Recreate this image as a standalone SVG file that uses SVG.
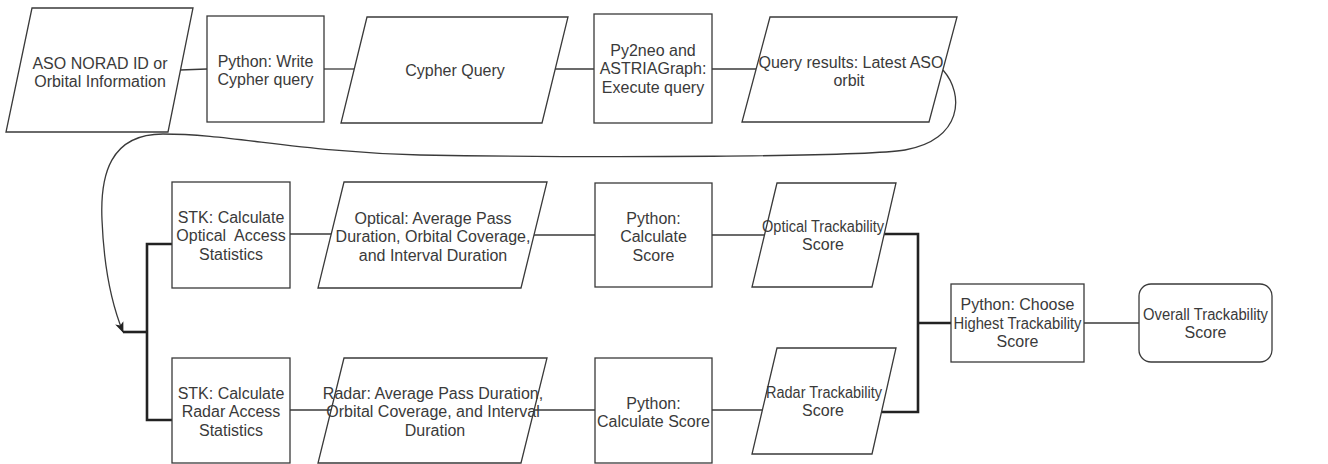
<svg xmlns="http://www.w3.org/2000/svg" width="1328" height="464" viewBox="0 0 1328 464">
<style>
.s{fill:#fff;stroke:#3a3a3a;stroke-width:1.3}
.t{font-family:"Liberation Sans",Arial,sans-serif;font-size:16px;fill:#3a3a3a;text-anchor:middle}
.c{fill:none;stroke:#3a3a3a;stroke-width:1.3}
.k{fill:none;stroke:#222;stroke-width:2.6}
</style>
<defs>
<marker id="arr" viewBox="0 0 10 8" refX="9" refY="4" markerWidth="11" markerHeight="9" markerUnits="userSpaceOnUse" orient="auto">
<path d="M0,0 L10,4 L0,8 L2.5,4 z" fill="#222"/>
</marker>
</defs>
<rect width="1328" height="464" fill="#fff"/>
<g id="connectors">
<path class="c" d="M180,70 L207,69"/>
<path class="c" d="M324,69 L354,69"/>
<path class="c" d="M555,69 L594,69"/>
<path class="c" d="M712,69 L756,69"/>
<path class="c" d="M943,70 C965,95 962,140 905,150 C860,157 600,158 420,155 C300,152 230,134 163,134 C110,134 100,175 102,220 C104,270 112,305 123,332" marker-end="url(#arr)"/>
<path class="k" d="M123,332 H147"/>
<path class="k" d="M172,244 H147 V420 H172"/>
<path class="c" d="M290,234 L331,234"/>
<path class="c" d="M534,235 L595,235"/>
<path class="c" d="M712,235 L765,235"/>
<path class="c" d="M290,410 L331,410"/>
<path class="c" d="M534,410 L595,410"/>
<path class="c" d="M712,410 L765,410"/>
<path class="k" d="M884,234 H918 V412 H882"/>
<path class="k" d="M918,323 H951"/>
<path class="c" d="M1084,323 L1139,323"/>
</g>
<g id="n1">
<polygon class="s" points="32,8 193,8 168,132 6,132"/>
<text class="t" x="100" y="68.5">ASO NORAD ID or</text>
<text class="t" x="100" y="87">Orbital Information</text>
</g>
<g id="n2">
<rect class="s" x="207" y="16" width="117" height="106"/>
<text class="t" x="265.5" y="66.5">Python: Write</text>
<text class="t" x="265.5" y="85">Cypher query</text>
</g>
<g id="n3">
<polygon class="s" points="367,17 568,17 542,123 341,123"/>
<text class="t" x="455" y="76">Cypher Query</text>
</g>
<g id="n4">
<rect class="s" x="594" y="14" width="118" height="109"/>
<text class="t" x="653" y="55.5">Py2neo and</text>
<text class="t" x="653" y="74">ASTRIAGraph:</text>
<text class="t" x="653" y="92.5">Execute query</text>
</g>
<g id="n5">
<polygon class="s" points="770,17 957,17 929,122 742,122"/>
<text class="t" x="851" y="67.5">Query results: Latest ASO</text>
<text class="t" x="849" y="86">orbit</text>
</g>
<g id="n6">
<rect class="s" x="172" y="182" width="118" height="106"/>
<text class="t" x="231" y="222.5">STK: Calculate</text>
<text class="t" x="231" y="241" xml:space="preserve">Optical  Access</text>
<text class="t" x="231" y="259.5">Statistics</text>
</g>
<g id="n7">
<polygon class="s" points="344,182 547,182 521,288 318,288"/>
<text class="t" x="433" y="223.5">Optical: Average Pass</text>
<text class="t" x="433" y="242">Duration, Orbital Coverage,</text>
<text class="t" x="433" y="260.5">and Interval Duration</text>
</g>
<g id="n8">
<rect class="s" x="595" y="183" width="117" height="104"/>
<text class="t" x="653.5" y="223.5">Python:</text>
<text class="t" x="653.5" y="242">Calculate</text>
<text class="t" x="653.5" y="260.5">Score</text>
</g>
<g id="n9">
<polygon class="s" points="777,183 896,183 872,287 752,287"/>
<text class="t" x="823" y="231.5" textLength="122" lengthAdjust="spacingAndGlyphs">Optical Trackability</text>
<text class="t" x="823" y="250">Score</text>
</g>
<g id="n10">
<rect class="s" x="172" y="358" width="118" height="105"/>
<text class="t" x="231" y="398.5">STK: Calculate</text>
<text class="t" x="231" y="417">Radar Access</text>
<text class="t" x="231" y="435.5">Statistics</text>
</g>
<g id="n11">
<polygon class="s" points="344,358 547,358 521,463 318,463"/>
<text class="t" x="433" y="398.5">Radar: Average Pass Duration,</text>
<text class="t" x="433" y="417">Orbital Coverage, and Interval</text>
<text class="t" x="435" y="435.5">Duration</text>
</g>
<g id="n12">
<rect class="s" x="595" y="358" width="117" height="105"/>
<text class="t" x="653.5" y="408.5">Python:</text>
<text class="t" x="653.5" y="427">Calculate Score</text>
</g>
<g id="n13">
<polygon class="s" points="777,348 896,348 872,454 752,454"/>
<text class="t" x="824" y="397.5" textLength="116" lengthAdjust="spacingAndGlyphs">Radar Trackability</text>
<text class="t" x="823" y="416">Score</text>
</g>
<g id="n14">
<rect class="s" x="951" y="284" width="133" height="78"/>
<text class="t" x="1017.5" y="310">Python: Choose</text>
<text class="t" x="1017.5" y="328.5" textLength="128" lengthAdjust="spacingAndGlyphs">Highest Trackability</text>
<text class="t" x="1017.5" y="347">Score</text>
</g>
<g id="n15">
<rect class="s" x="1139" y="284" width="133" height="78" rx="12" ry="12"/>
<text class="t" x="1205.5" y="319.5" textLength="125" lengthAdjust="spacingAndGlyphs">Overall Trackability</text>
<text class="t" x="1205.5" y="338">Score</text>
</g>
</svg>
